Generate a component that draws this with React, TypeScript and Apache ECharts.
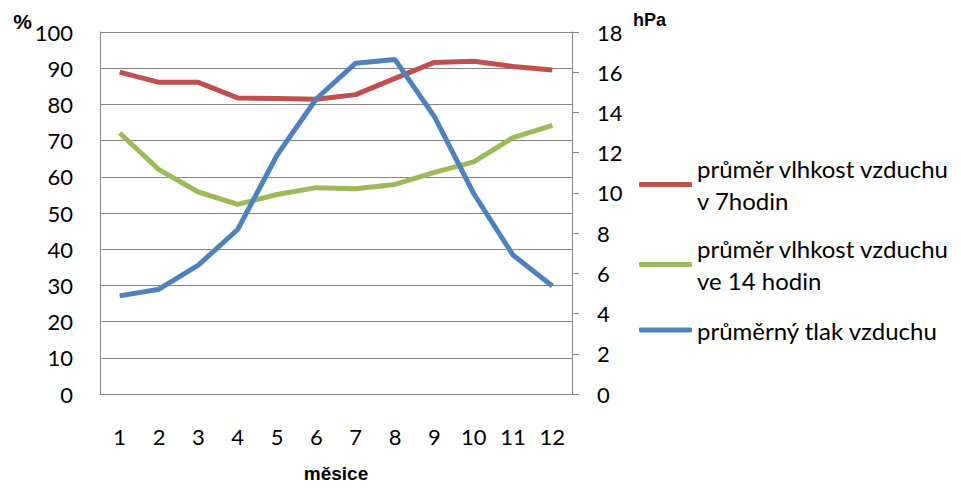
import React, { useEffect, useRef } from "react";
import * as echarts from "echarts";

const months = ["1", "2", "3", "4", "5", "6", "7", "8", "9", "10", "11", "12"];
const humidity7 = [88.9, 86.1, 86.1, 81.8, 81.6, 81.4, 82.7, 87.2, 91.6, 91.9, 90.5, 89.5];
const humidity14 = [72.1, 62.0, 55.8, 52.4, 55.1, 57.0, 56.7, 57.9, 61.2, 64.1, 70.8, 74.2];
const pressure = [4.88, 5.21, 6.41, 8.18, 11.87, 14.68, 16.45, 16.63, 13.8, 9.97, 6.91, 5.37];

const name7 = "průměr vlhkost vzduchu\nv 7hodin";
const name14 = "průměr vlhkost vzduchu\nve 14 hodin";
const namePress = "průměrný tlak vzduchu";
const leftUnit = "%";
const rightUnit = "hPa";
const xName = "měsice";

const FONT = "Lato, 'Noto Sans', sans-serif";
const SANS = "'Liberation Sans', Arial, sans-serif";
const GRAY = "#868686";

export default function App() {
  const ref = useRef<HTMLDivElement>(null);
  useEffect(() => {
    document.body.style.margin = "0";
    if (!ref.current) return;
    const chart = echarts.init(ref.current, null, { renderer: "svg" });
    const legendBase = (name: string, top: number, twoLines: boolean) => ({
      data: [name],
      orient: "vertical",
      left: 639,
      top,
      padding: 0,
      icon: "roundRect",
      itemWidth: 53,
      itemHeight: 5,
      itemGap: 0,
      selectedMode: false,
      textStyle: {
        fontFamily: FONT,
        fontSize: 24,
        color: "#000",
        lineHeight: 32,
        padding: twoLines ? [32, 0, 0, 0] : 0,
      },
    });
    chart.setOption({
      animation: false,
      textStyle: { fontFamily: FONT },
      grid: { left: 100, right: 389, top: 32, bottom: 94, containLabel: false, outerBoundsMode: "none" },
      graphic: [
        {
          type: "text",
          x: 32,
          y: 21,
          style: {
            text: leftUnit,
            align: "right",
            verticalAlign: "middle",
            fontFamily: SANS,
            fontWeight: "bold",
            fontSize: 21,
            fill: "#000",
          },
        },
        {
          type: "text",
          x: 633,
          y: 20,
          style: {
            text: rightUnit,
            align: "left",
            verticalAlign: "middle",
            fontFamily: SANS,
            fontWeight: "bold",
            fontSize: 18,
            fill: "#000",
          },
        },
      ],
      legend: [
        legendBase(name7, 136.5, true),
        legendBase(name14, 216.5, true),
        legendBase(namePress, 314, false),
      ],
      xAxis: {
        type: "category",
        data: months,
        boundaryGap: true,
        name: xName,
        nameLocation: "middle",
        nameGap: 70,
        nameTextStyle: {
          fontFamily: SANS,
          fontWeight: "bold",
          fontSize: 19,
          color: "#000",
        },
        axisLine: { show: true, lineStyle: { color: GRAY, width: 1 } },
        axisTick: { show: false },
        axisLabel: { fontFamily: FONT, fontSize: 22, color: "#000", margin: 31 },
      },
      yAxis: [
        {
          type: "value",
          min: 0,
          max: 100,
          interval: 10,
          position: "left",
          axisLine: { show: true, lineStyle: { color: GRAY, width: 1 } },
          axisTick: { show: false },
          splitLine: { show: true, lineStyle: { color: GRAY, width: 1 } },
          axisLabel: { fontFamily: FONT, fontSize: 22, color: "#000", margin: 27 },
        },
        {
          type: "value",
          min: 0,
          max: 18,
          interval: 2,
          position: "right",
          axisLine: { show: true, lineStyle: { color: GRAY, width: 1 } },
          axisTick: { show: true, length: 7, lineStyle: { color: GRAY, width: 1 } },
          splitLine: { show: false },
          axisLabel: { fontFamily: FONT, fontSize: 22, color: "#000", margin: 25 },
        },
      ],
      series: [
        {
          name: name7,
          type: "line",
          yAxisIndex: 0,
          data: humidity7,
          showSymbol: false,
          symbol: "none",
          lineStyle: { color: "#C0504D", width: 5 },
          itemStyle: { color: "#C0504D" },
        },
        {
          name: name14,
          type: "line",
          yAxisIndex: 0,
          data: humidity14,
          showSymbol: false,
          symbol: "none",
          lineStyle: { color: "#9BBB59", width: 5 },
          itemStyle: { color: "#9BBB59" },
        },
        {
          name: namePress,
          type: "line",
          yAxisIndex: 1,
          data: pressure,
          showSymbol: false,
          symbol: "none",
          lineStyle: { color: "#4F81BD", width: 5 },
          itemStyle: { color: "#4F81BD" },
        },
      ],
    });
    return () => chart.dispose();
  }, []);
  return <div ref={ref} style={{ width: 961, height: 488 }} />;
}
